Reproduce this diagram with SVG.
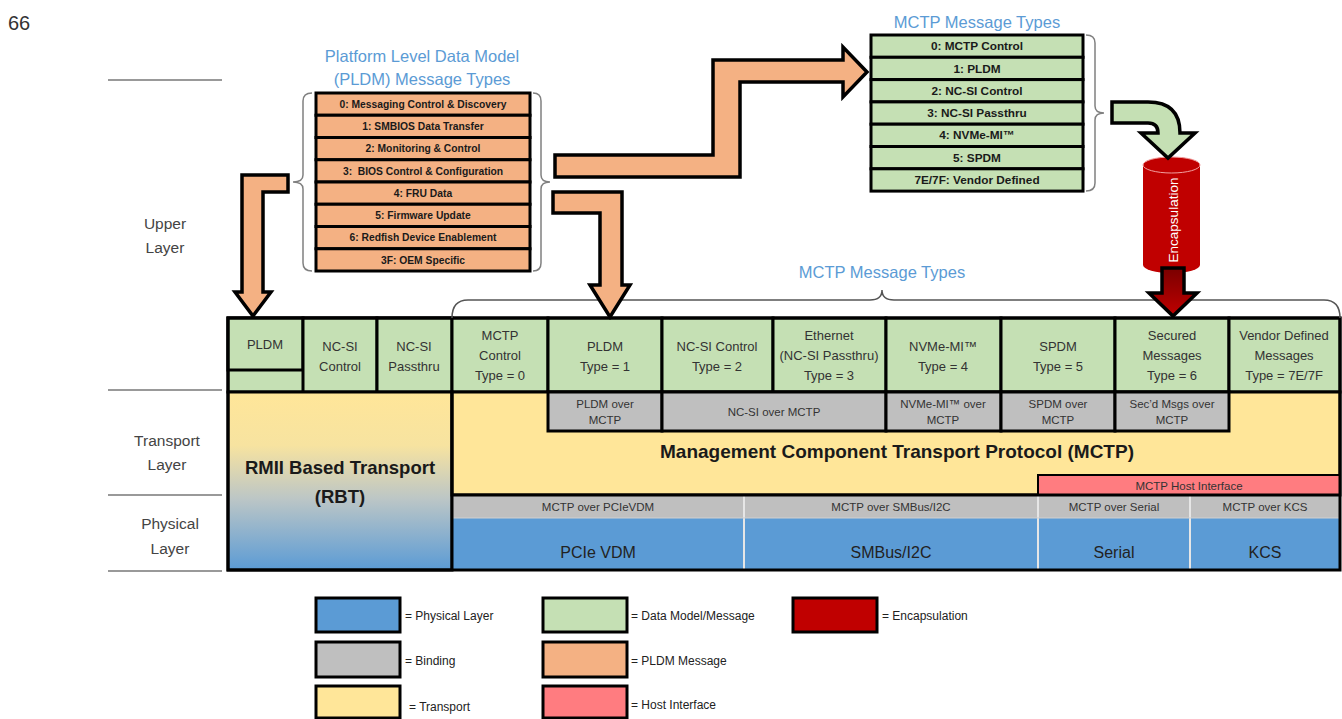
<svg xmlns="http://www.w3.org/2000/svg" width="1342" height="719" viewBox="0 0 1342 719">
<defs>
<linearGradient id="rbt" x1="0" y1="0" x2="0" y2="1">
<stop offset="0" stop-color="#FFE699"/>
<stop offset="0.3" stop-color="#F7E3A0"/>
<stop offset="0.6" stop-color="#BCC6C6"/>
<stop offset="1" stop-color="#5B9BD5"/>
</linearGradient>
<linearGradient id="redshaft" x1="0" y1="0" x2="0" y2="1">
<stop offset="0" stop-color="#7A0000"/>
<stop offset="1" stop-color="#C00000"/>
</linearGradient>
</defs>
<style>
text{font-family:"Liberation Sans",Arial,sans-serif;}
.c{text-anchor:middle;dominant-baseline:central;}
.lay{font-size:15.5px;fill:#444;}
.ttl{font-size:16.5px;fill:#5B9BD5;}
.pl{font-size:10.3px;font-weight:bold;fill:#1a1a1a;}
.mc{font-size:11.8px;font-weight:bold;fill:#1a1a1a;}
.cell{font-size:13px;fill:#333;}
.bind{font-size:11.5px;fill:#333;}
.phy{font-size:16px;fill:#222;}
.leg{font-size:12px;fill:#222;}
.grn{fill:#C5E0B4;stroke:#000;stroke-width:3;}
.org{fill:#F4B183;stroke:#000;stroke-width:3;}
.gry{fill:#BFBFBF;stroke:#000;stroke-width:3;}
.sep{stroke:#777;stroke-width:1.5;}
.brace{fill:none;stroke:#808080;stroke-width:1.5;}
.arr{stroke:#000;stroke-width:3.5;stroke-linejoin:miter;}
</style>
<rect width="1342" height="719" fill="#fff"/>
<text x="8" y="30" font-size="20" fill="#333" style="font-family:'Liberation Sans',Arial,sans-serif">66</text>

<g id="layer-labels">
<line class="sep" x1="108" y1="80" x2="222" y2="80"/>
<line class="sep" x1="108" y1="390" x2="222" y2="390"/>
<line class="sep" x1="108" y1="495" x2="222" y2="495"/>
<line class="sep" x1="108" y1="571" x2="222" y2="571"/>
<text class="c lay" x="165" y="223">Upper</text>
<text class="c lay" x="165" y="247">Layer</text>
<text class="c lay" x="167" y="440">Transport</text>
<text class="c lay" x="167" y="464">Layer</text>
<text class="c lay" x="170" y="523">Physical</text>
<text class="c lay" x="170" y="548">Layer</text>
</g>

<g id="pldm-types">
<text class="c ttl" x="422" y="56">Platform Level Data Model</text>
<text class="c ttl" x="422" y="79">(PLDM) Message Types</text>
<rect class="org" x="316" y="93" width="214" height="22.25"/>
<rect class="org" x="316" y="115.25" width="214" height="22.25"/>
<rect class="org" x="316" y="137.5" width="214" height="22.25"/>
<rect class="org" x="316" y="159.75" width="214" height="22.25"/>
<rect class="org" x="316" y="182" width="214" height="22.25"/>
<rect class="org" x="316" y="204.25" width="214" height="22.25"/>
<rect class="org" x="316" y="226.5" width="214" height="22.25"/>
<rect class="org" x="316" y="248.75" width="214" height="22.25"/>
<text class="c pl" x="423" y="104">0: Messaging Control &amp; Discovery</text>
<text class="c pl" x="423" y="126.5">1: SMBIOS Data Transfer</text>
<text class="c pl" x="423" y="148.5">2: Monitoring &amp; Control</text>
<text class="c pl" x="423" y="171" xml:space="preserve">3:  BIOS Control &amp; Configuration</text>
<text class="c pl" x="423" y="193">4: FRU Data</text>
<text class="c pl" x="423" y="215.5">5: Firmware Update</text>
<text class="c pl" x="423" y="237.5">6: Redfish Device Enablement</text>
<text class="c pl" x="423" y="260">3F: OEM Specific</text>
</g>

<g id="mctp-types">
<text class="c ttl" x="977" y="22">MCTP Message Types</text>
<rect class="grn" x="871" y="35" width="212" height="22.3"/>
<rect class="grn" x="871" y="57.3" width="212" height="22.3"/>
<rect class="grn" x="871" y="79.6" width="212" height="22.3"/>
<rect class="grn" x="871" y="101.9" width="212" height="22.3"/>
<rect class="grn" x="871" y="124.2" width="212" height="22.3"/>
<rect class="grn" x="871" y="146.5" width="212" height="22.3"/>
<rect class="grn" x="871" y="168.8" width="212" height="22.3"/>
<text class="c mc" x="977" y="46">0: MCTP Control</text>
<text class="c mc" x="977" y="68.5">1: PLDM</text>
<text class="c mc" x="977" y="90.5">2: NC-SI Control</text>
<text class="c mc" x="977" y="113">3: NC-SI Passthru</text>
<text class="c mc" x="977" y="135">4: NVMe-MI™</text>
<text class="c mc" x="977" y="157.5">5: SPDM</text>
<text class="c mc" x="977" y="180">7E/7F: Vendor Defined</text>
</g>

<g id="encapsulation">
<path d="M1143,165 V265 A28.5,8 0 0 0 1200,265 V165 Z" fill="#C00000"/>
<ellipse cx="1171.5" cy="165" rx="28.5" ry="8" fill="#C00000" stroke="#F2A0A0" stroke-width="1"/>
<text class="c" x="1173" y="220" font-size="13.5" fill="#fff" transform="rotate(-90 1173 220)">Encapsulation</text>
</g>

<g id="mctp-bracket-title">
<text class="c ttl" x="882" y="272">MCTP Message Types</text>
</g>

<g id="upper-row">
<rect class="grn" x="228" y="318" width="224" height="74"/>
<rect class="grn" x="228" y="318" width="75" height="52"/>
<rect class="grn" x="303" y="318" width="74" height="74"/>
<rect class="grn" x="377" y="318" width="75" height="74"/>
<rect class="grn" x="452" y="318" width="96" height="74"/>
<rect class="grn" x="548" y="318" width="114" height="74"/>
<rect class="grn" x="662" y="318" width="111" height="74"/>
<rect class="grn" x="773" y="318" width="113" height="74"/>
<rect class="grn" x="886" y="318" width="115" height="74"/>
<rect class="grn" x="1001" y="318" width="114" height="74"/>
<rect class="grn" x="1115" y="318" width="114" height="74"/>
<rect class="grn" x="1229" y="318" width="111" height="74"/>
<text class="c cell" x="265" y="344">PLDM</text>
<text class="c cell" x="340" y="346">NC-SI</text>
<text class="c cell" x="340" y="366">Control</text>
<text class="c cell" x="414" y="346">NC-SI</text>
<text class="c cell" x="414" y="366">Passthru</text>
<text class="c cell" x="500" y="335">MCTP</text>
<text class="c cell" x="500" y="355">Control</text>
<text class="c cell" x="500" y="375">Type = 0</text>
<text class="c cell" x="605" y="346">PLDM</text>
<text class="c cell" x="605" y="366">Type = 1</text>
<text class="c cell" x="717" y="346">NC-SI Control</text>
<text class="c cell" x="717" y="366">Type = 2</text>
<text class="c cell" x="829" y="335">Ethernet</text>
<text class="c cell" x="829" y="355">(NC-SI Passthru)</text>
<text class="c cell" x="829" y="375">Type = 3</text>
<text class="c cell" x="943" y="346">NVMe-MI™</text>
<text class="c cell" x="943" y="366">Type = 4</text>
<text class="c cell" x="1058" y="346">SPDM</text>
<text class="c cell" x="1058" y="366">Type = 5</text>
<text class="c cell" x="1172" y="335">Secured</text>
<text class="c cell" x="1172" y="355">Messages</text>
<text class="c cell" x="1172" y="375">Type = 6</text>
<text class="c cell" x="1284" y="335">Vendor Defined</text>
<text class="c cell" x="1284" y="355">Messages</text>
<text class="c cell" x="1284" y="375">Type = 7E/7F</text>
</g>

<g id="transport">
<rect x="228" y="392" width="224" height="178" fill="url(#rbt)" stroke="#000" stroke-width="3"/>
<text class="c" x="340" y="467" font-size="18.5" font-weight="bold" fill="#1a1a1a">RMII Based Transport</text>
<text class="c" x="340" y="496" font-size="18.5" font-weight="bold" fill="#1a1a1a">(RBT)</text>
<rect x="452" y="392" width="888" height="103" fill="#FFE699" stroke="#000" stroke-width="3"/>
<text class="c" x="897" y="451" font-size="19" font-weight="bold" fill="#1a1a1a">Management Component Transport Protocol (MCTP)</text>
<rect class="gry" x="548" y="392" width="114" height="39"/>
<rect class="gry" x="662" y="392" width="224" height="39"/>
<rect class="gry" x="886" y="392" width="115" height="39"/>
<rect class="gry" x="1001" y="392" width="114" height="39"/>
<rect class="gry" x="1115" y="392" width="114" height="39"/>
<text class="c bind" x="605" y="404">PLDM over</text>
<text class="c bind" x="605" y="420">MCTP</text>
<text class="c bind" x="774" y="412">NC-SI over MCTP</text>
<text class="c bind" x="943" y="404">NVMe-MI™ over</text>
<text class="c bind" x="943" y="420">MCTP</text>
<text class="c bind" x="1058" y="404">SPDM over</text>
<text class="c bind" x="1058" y="420">MCTP</text>
<text class="c bind" x="1172" y="404">Sec’d Msgs over</text>
<text class="c bind" x="1172" y="420">MCTP</text>
<rect x="1038" y="475" width="302" height="20" fill="#FF7C80" stroke="#000" stroke-width="2"/>
<text class="c bind" x="1189" y="486">MCTP Host Interface</text>
</g>

<g id="physical">
<rect x="452" y="496" width="888" height="22" fill="#BFBFBF"/>
<rect x="452" y="518" width="888" height="52" fill="#5B9BD5"/>
<line x1="744" y1="496" x2="744" y2="570" stroke="#E6E6E6" stroke-width="2"/>
<line x1="1038" y1="496" x2="1038" y2="570" stroke="#E6E6E6" stroke-width="2"/>
<line x1="1190" y1="496" x2="1190" y2="570" stroke="#E6E6E6" stroke-width="2"/>
<line x1="452" y1="518" x2="1340" y2="518" stroke="#D0D0D0" stroke-width="1"/>
<text class="c bind" x="598" y="507">MCTP over PCIeVDM</text>
<text class="c bind" x="891" y="507">MCTP over SMBus/I2C</text>
<text class="c bind" x="1114" y="507">MCTP over Serial</text>
<text class="c bind" x="1265" y="507">MCTP over KCS</text>
<text class="c phy" x="598" y="552">PCIe VDM</text>
<text class="c phy" x="891" y="552">SMBus/I2C</text>
<text class="c phy" x="1114" y="552">Serial</text>
<text class="c phy" x="1265" y="552">KCS</text>
<line x1="452" y1="495" x2="1340" y2="495" stroke="#000" stroke-width="3"/>
<line x1="452" y1="392" x2="452" y2="570" stroke="#000" stroke-width="3"/>
<rect x="228" y="318" width="1112" height="252" fill="none" stroke="#000" stroke-width="3"/>
</g>

<g id="connectors">
<path class="brace" d="M312,93 Q303,93 303,101 V175 Q303,182 293,182 Q303,182 303,189 V263 Q303,271 312,271"/>
<path class="brace" d="M533,93 Q541,93 541,101 V175 Q541,182 550,182 Q541,182 541,189 V263 Q541,271 533,271"/>
<path class="brace" d="M1086,35 Q1095,35 1095,43 V106 Q1095,113 1104,113 Q1095,113 1095,120 V183 Q1095,191 1086,191"/>
<path class="brace" style="stroke:#555" d="M452,318 Q452,300 468,300 H870 Q882,300 882,290 Q882,300 894,300 H1324 Q1340,300 1340,318"/>
<path class="arr" fill="#F4B183" d="M242,175 H288 V192 H263 V292 H271 L253,316 L235,292 H242 Z"/>
<path class="arr" fill="#F4B183" d="M553,192 H622 V285 H630 L610,317 L590,285 H600 V213 H553 Z"/>
<path class="arr" fill="#F4B183" d="M555,155 H713 V60 H843 V47 L867,72 L843,97 V82 H740 V177 H555 Z"/>
<path class="arr" fill="#C5E0B4" d="M1112,102 H1148 Q1180,102 1180,133 H1195 L1168,158 L1141,133 H1158 Q1158,123 1148,123 H1112 Z"/>
<path class="arr" fill="url(#redshaft)" d="M1162,268 H1184 V293 H1197 L1173,316 L1149,293 H1162 Z"/>
</g>

<g id="legend">
<rect x="316" y="598" width="84" height="34" fill="#5B9BD5" stroke="#000" stroke-width="3"/>
<text class="leg" x="405" y="620">= Physical Layer</text>
<rect x="316" y="642" width="84" height="35" fill="#BFBFBF" stroke="#000" stroke-width="3"/>
<text class="leg" x="405" y="665">= Binding</text>
<rect x="316" y="686" width="84" height="32" fill="#FFE699" stroke="#000" stroke-width="3"/>
<text class="leg" x="409" y="711">= Transport</text>
<rect x="543" y="598" width="84" height="34" fill="#C5E0B4" stroke="#000" stroke-width="3"/>
<text class="leg" x="631" y="620">= Data Model/Message</text>
<rect x="543" y="642" width="84" height="35" fill="#F4B183" stroke="#000" stroke-width="3"/>
<text class="leg" x="631" y="665">= PLDM Message</text>
<rect x="543" y="686" width="84" height="32" fill="#FF7C80" stroke="#000" stroke-width="3"/>
<text class="leg" x="631" y="709">= Host Interface</text>
<rect x="793" y="598" width="84" height="34" fill="#C00000" stroke="#000" stroke-width="3"/>
<text class="leg" x="882" y="620">= Encapsulation</text>
</g>
</svg>
